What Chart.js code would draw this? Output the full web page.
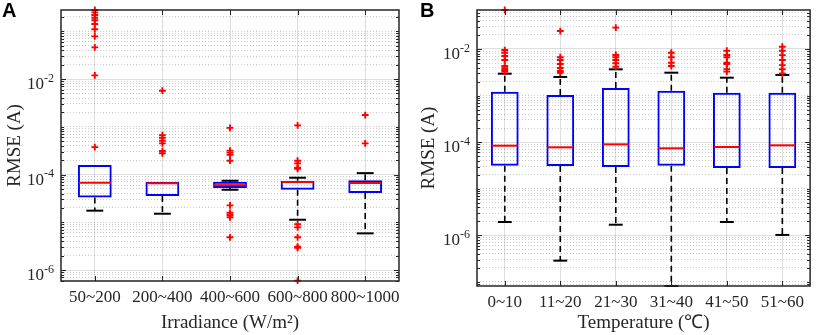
<!DOCTYPE html>
<html>
<head>
<meta charset="utf-8">
<script src="https://cdn.jsdelivr.net/npm/chart.js@4.4.1/dist/chart.umd.min.js"></script>
<style>
  body { margin: 0; background: #fff; }
  #page { position: relative; width: 816px; height: 335px; overflow: hidden; }
  canvas { position: absolute; top: 0; }
  #chartA { left: 0; }
  #chartB { left: 408px; }
  .tag { position: absolute; top: 0; font: bold 20px "Liberation Sans", Arial, sans-serif; line-height: 20px; color: #000; }
</style>
</head>
<body>
<div id="page">
  <canvas id="chartA" width="408" height="335"></canvas>
  <canvas id="chartB" width="408" height="335"></canvas>
  <div class="tag" style="left:2px">A</div>
  <div class="tag" style="left:420px">B</div>
</div>
<script>
// --- Panel A: RMSE by irradiance ---
const irrLabels = ["50~200", "200~400", "400~600", "600~800", "800~1000"];
const irrQ1  = [3.32e-5, 3.55e-5, 5.2e-5, 4.8e-5, 4.1e-5];
const irrMed = [6.73e-5, 6.53e-5, 6.0e-5, 6.97e-5, 6.64e-5];
const irrQ3  = [1.58e-4, 7.08e-5, 7.1e-5, 7.41e-5, 7.55e-5];
const irrLo  = [1.75e-5, 1.51e-5, 4.8e-5, 1.13e-5, 5.86e-6];
const irrHi  = [1.58e-4, 7.08e-5, 7.4e-5, 8.57e-5, 1.07e-4];
const irrOutliers = [
  [0.279, 0.249, 0.219, 0.192, 0.170, 0.142, 0.110, 0.0783, 0.0461, 0.0119, 3.74e-4],
  [5.69e-3, 6.68e-4, 5.9e-4, 5.08e-4, 4.5e-4, 3.1e-4, 2.78e-4],
  [9.5e-4, 3.16e-4, 2.87e-4, 2.6e-4, 1.95e-4, 2.26e-5, 1.58e-5, 1.42e-5, 1.27e-5, 4.84e-6],
  [1.07e-3, 1.95e-4, 1.71e-4, 1.39e-4, 1.32e-4, 9.06e-6, 7.83e-6, 4.84e-6, 3.08e-6, 2.93e-6, 5.97e-7],
  [1.76e-3, 4.5e-4]
];

// --- Panel B: RMSE by temperature ---
const tempLabels = ["0~10", "11~20", "21~30", "31~40", "41~50", "51~60"];
const tempQ1  = [3.13e-5, 3.08e-5, 2.93e-5, 3.13e-5, 2.79e-5, 2.79e-5];
const tempMed = [8.4e-5, 7.75e-5, 8.98e-5, 7.38e-5, 7.87e-5, 8.55e-5];
const tempQ3  = [1.21e-3, 1.03e-3, 1.46e-3, 1.27e-3, 1.15e-3, 1.15e-3];
const tempLo  = [1.93e-6, 2.86e-7, 1.69e-6, 8.17e-8, 1.93e-6, 1.02e-6];
const tempHi  = [2.95e-3, 2.51e-3, 3.66e-3, 3.1e-3, 2.42e-3, 2.77e-3];
const tempOutliers = [
  [0.0687, 9.5e-3, 8.3e-3, 7.08e-3, 5.8e-3, 4.31e-3, 3.85e-3, 3.54e-3, 3.26e-3],
  [0.0243, 6.64e-3, 5.8e-3, 4.77e-3, 3.91e-3, 3.37e-3, 3.1e-3],
  [0.0287, 7.43e-3, 6.64e-3, 5.8e-3, 4.93e-3, 4.17e-3],
  [8.33e-3, 6.64e-3, 5.08e-3, 4.31e-3],
  [9.2e-3, 7.43e-3, 6.64e-3, 5.08e-3, 4.77e-3, 3.66e-3, 3.26e-3],
  [0.0112, 9.2e-3, 7.4e-3, 5.8e-3, 4.5e-3, 3.66e-3, 3.0e-3]
];

// labelled decades on the y axes (10^-2, 10^-4, 10^-6)
const yLabelExps = [-2, -4, -6];

const SERIF = '"Liberation Serif", "Times New Roman", serif';
const TEXT = "#262626";
Chart.defaults.font.family = SERIF;
Chart.defaults.color = TEXT;

const isDecade = v => Math.abs(Math.log10(v) - Math.round(Math.log10(v))) < 1e-6;
const isLabelled = v => isDecade(v) && yLabelExps.includes(Math.round(Math.log10(v)));

function logTicks(min, max) {
  const out = [];
  for (let e = Math.floor(Math.log10(min)); e <= Math.ceil(Math.log10(max)); e++) {
    for (let k = 1; k <= 9; k++) {
      const v = k * Math.pow(10, e);
      if (v >= min && v <= max) out.push({ value: v });
    }
  }
  return out;
}

// MATLAB-like axes frame: box, inward ticks, superscript decade labels
const axesFrame = {
  id: "axesFrame",
  afterDraw(chart) {
    const { ctx, chartArea: a, scales: { x, y } } = chart;
    ctx.save();
    ctx.strokeStyle = TEXT;
    ctx.lineWidth = 1;
    ctx.beginPath();
    y.ticks.forEach(t => {
      const py = Math.round(y.getPixelForValue(t.value)) + 0.5;
      const len = isLabelled(t.value) ? 5 : 3;
      ctx.moveTo(a.left, py); ctx.lineTo(a.left + len, py);
      ctx.moveTo(a.right, py); ctx.lineTo(a.right - len, py);
    });
    x.ticks.forEach((t, i) => {
      const px = Math.round(x.getPixelForTick(i)) + 0.5;
      ctx.moveTo(px, a.bottom); ctx.lineTo(px, a.bottom - 5);
      ctx.moveTo(px, a.top); ctx.lineTo(px, a.top + 5);
    });
    ctx.stroke();
    ctx.lineWidth = 1.5;
    ctx.strokeRect(a.left, a.top, a.right - a.left, a.bottom - a.top);

    ctx.fillStyle = TEXT;
    yLabelExps.forEach(e => {
      const v = Math.pow(10, e);
      if (v < y.min || v > y.max) return;
      const py = y.getPixelForValue(v);
      const expTxt = String(e);
      const right = a.left - 7;
      ctx.font = "12px " + SERIF;
      const ew = ctx.measureText(expTxt).width;
      ctx.textBaseline = "alphabetic";
      ctx.textAlign = "left";
      ctx.fillText(expTxt, right - ew, py + 2.7);
      ctx.font = "17px " + SERIF;
      ctx.textAlign = "right";
      ctx.fillText("10", right - ew, py + 10);
    });
    ctx.restore();
  }
};

function makeBoxChart(id, labels, q1, med, q3, lo, hi, outliers, yMin, yMax, xTitle, dims) {
  const whiskers = [];
  labels.forEach((l, i) => {
    whiskers.push({ x: l, y: q3[i] }, { x: l, y: hi[i] }, { x: l, y: null });
    whiskers.push({ x: l, y: q1[i] }, { x: l, y: lo[i] }, { x: l, y: null });
  });
  // a cap that sits on the box edge is hidden behind the box line
  const caps = labels.flatMap((l, i) => {
    const pts = [{ x: l, y: lo[i] }];
    if (hi[i] > q3[i]) pts.push({ x: l, y: hi[i] });
    return pts;
  });
  const medians = labels.map((l, i) => ({ x: l, y: med[i] }));
  const outs = labels.flatMap((l, i) => outliers[i].map(v => ({ x: l, y: v })));
  const catW = c => c.chart.scales.x.width / labels.length;

  return new Chart(document.getElementById(id), {
    type: "bar",
    data: {
      labels: labels,
      datasets: [
        {
          type: "line", data: outs, order: 0, showLine: false, clip: false,
          pointStyle: "cross", pointRadius: 3.4, pointBorderWidth: 1.9,
          pointBorderColor: "#ff0000", pointBackgroundColor: "#ff0000"
        },
        {
          type: "line", data: medians, order: 1, showLine: false,
          pointStyle: "line", pointRadius: c => catW(c) * 0.25 - 1, pointBorderWidth: 2,
          pointBorderColor: "#ff0000", pointBackgroundColor: "#ff0000"
        },
        {
          data: labels.map((_, i) => [q1[i], q3[i]]), order: 2,
          backgroundColor: "rgba(0,0,0,0)", borderColor: "#0000ff", borderWidth: 2,
          borderSkipped: false, barPercentage: 0.5, categoryPercentage: 1
        },
        {
          type: "line", data: caps, order: 3, showLine: false, clip: false,
          pointStyle: "line", pointRadius: c => catW(c) * 0.125, pointBorderWidth: 2,
          pointBorderColor: "#000", pointBackgroundColor: "#000"
        },
        {
          type: "line", data: whiskers, order: 4, clip: false, spanGaps: false,
          borderColor: "#000", borderWidth: 1.6, borderDash: [6, 4], pointRadius: 0
        }
      ]
    },
    options: {
      responsive: false,
      animation: false,
      events: [],
      layout: { padding: { top: 10, right: dims.right, left: 0, bottom: 0 } },
      plugins: { legend: { display: false }, tooltip: { enabled: false } },
      scales: {
        x: {
          type: "category",
          grid: { offset: false, color: "rgba(0,0,0,0.13)", drawTicks: false },
          border: { display: false },
          ticks: { autoSkip: false, maxRotation: 0, minRotation: 0, padding: 6, color: TEXT, font: { size: 17 } },
          title: { display: true, text: xTitle, color: TEXT, font: { size: 19 }, padding: { top: 0, bottom: 1 } },
          afterFit: s => { s.height = dims.xh; }
        },
        y: {
          type: "logarithmic",
          min: yMin,
          max: yMax,
          afterBuildTicks: s => { s.ticks = logTicks(s.min, s.max); },
          grid: {
            drawTicks: false,
            color: c => (c.tick && isLabelled(c.tick.value)) ? "rgba(0,0,0,0.13)" : "rgba(0,0,0,0.2)"
          },
          border: {
            display: false,
            dash: c => (c.tick && isLabelled(c.tick.value)) ? [] : [1, 2]
          },
          ticks: { display: false },
          title: { display: true, text: "RMSE (A)", color: TEXT, font: { size: 19 }, padding: { top: dims.tpad, bottom: 0 } },
          afterFit: s => { s.width = dims.yw; }
        }
      }
    },
    plugins: [axesFrame]
  });
}

makeBoxChart("chartA", irrLabels, irrQ1, irrMed, irrQ3, irrLo, irrHi, irrOutliers,
  5.89e-7, 0.279, "Irradiance (W/m\u00B2)", { right: 9, xh: 54, yw: 61, tpad: 3.6 });
makeBoxChart("chartB", tempLabels, tempQ1, tempMed, tempQ3, tempLo, tempHi, tempOutliers,
  8.17e-8, 0.0687, "Temperature (\u2103)", { right: 2, xh: 49, yw: 69, tpad: 9.6 });
</script>
</body>
</html>
